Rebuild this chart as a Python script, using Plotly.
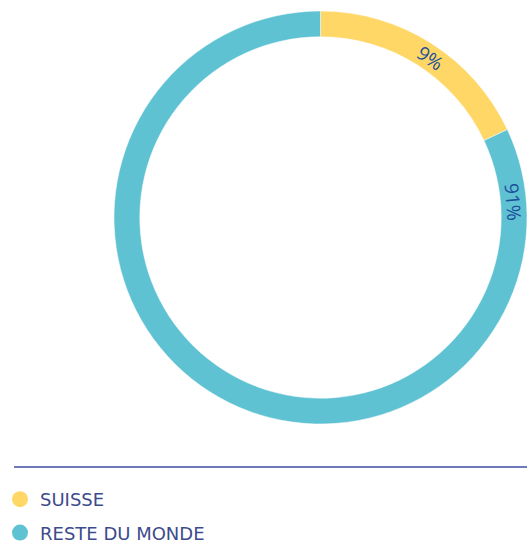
import math
import plotly.graph_objects as go

# ---- data ----
categories = ["SUISSE", "RESTE DU MONDE"]
slice_values = [18, 82]          # arc shares as drawn in the reference
label_texts = ["9%", "91%"]      # percentages printed on the ring
colors = ["#FFD766", "#5EC2D2"]

W, H = 527, 543
# pie geometry in pixels
dom_x = [114, 527]
dom_y_top, dom_y_bot = 11, 424
hole = 0.875
label_offsets_deg = [34.5, 20.5]   # label angle past each slice start

fig = go.Figure()
fig.add_trace(go.Pie(
    values=slice_values,
    labels=categories,
    marker=dict(colors=colors, line=dict(color="white", width=0.5)),
    hole=hole,
    sort=False,
    direction="clockwise",
    rotation=0,
    textinfo="none",
    hoverinfo="label+percent",
    showlegend=False,
    domain=dict(x=[dom_x[0] / W, dom_x[1] / W],
                y=[1 - dom_y_bot / H, 1 - dom_y_top / H]),
))

# legend entries (circle markers)
for cat, col in zip(categories, colors):
    fig.add_trace(go.Scatter(
        x=[None], y=[None], mode="markers", name=cat, legendgroup=cat,
        marker=dict(symbol="circle", size=18, color=col),
    ))

# ring labels, tangential
cx = (dom_x[0] + dom_x[1]) / 2
cy = (dom_y_top + dom_y_bot) / 2
R = min(dom_x[1] - dom_x[0], dom_y_bot - dom_y_top) / 2
r_lab = R * (1 + hole) / 2
total = sum(slice_values)
start = 0.0
annotations = []
for v, txt, off in zip(slice_values, label_texts, label_offsets_deg):
    ang = start + off
    a = math.radians(ang)
    px = cx + r_lab * math.sin(a)
    py = cy - r_lab * math.cos(a)
    annotations.append(dict(
        x=px / W, y=1 - py / H, xref="paper", yref="paper",
        text=txt, showarrow=False, textangle=ang,
        font=dict(family="Open Sans", size=19, color="#1E4F9C"),
        xanchor="center", yanchor="middle",
    ))
    start += v / total * 360

fig.update_layout(
    width=W, height=H,
    margin=dict(l=0, r=0, t=0, b=0, autoexpand=False),
    paper_bgcolor="white", plot_bgcolor="white",
    xaxis=dict(visible=False), yaxis=dict(visible=False),
    annotations=annotations,
    shapes=[dict(type="line", xref="paper", yref="paper",
                 x0=14 / W, x1=1, y0=1 - 467 / H, y1=1 - 467 / H,
                 line=dict(color="#3C4FA0", width=1.5))],
    legend=dict(x=0.0, y=1 - 481 / H, xanchor="left", yanchor="top",
                font=dict(family="DejaVu Sans", size=18, color="#3D4A8C"),
                tracegroupgap=7, bgcolor="rgba(0,0,0,0)"),
)

fig.write_html("out.html",
               config={"displayModeBar": False},
               post_script="document.body.style.margin='0';"
                           "document.body.style.overflow='hidden';")
